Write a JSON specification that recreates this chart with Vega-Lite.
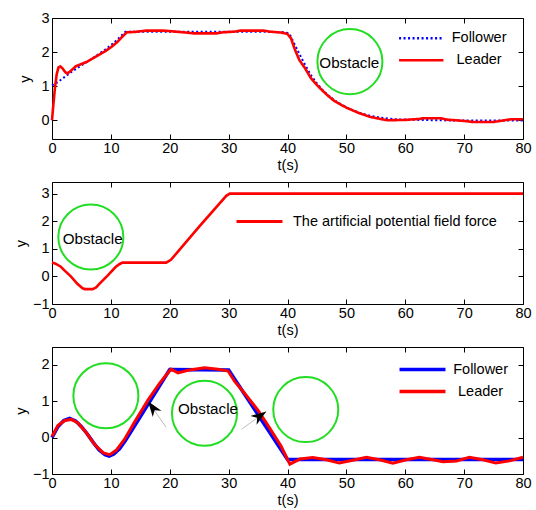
{
  "$schema": "https://vega.github.io/schema/vega-lite/v6.json",
  "padding": {"top": 9, "left": 13, "right": 5, "bottom": 5},
  "spacing": 8,
  "config": {
    "font": "Liberation Sans",
    "view": {"stroke": "black", "strokeWidth": 1},
    "axis": {"grid": false, "domain": false, "tickColor": "black", "tickSize": -5, "tickWidth": 1,
      "labelFontSize": 14.5, "labelColor": "black", "labelFont": "Liberation Sans", "labelFlush": false, "labelPadding": 7,
      "titleFontSize": 14.5, "titleFontWeight": "normal", "titleColor": "black", "titleFont": "Liberation Sans"},
    "axisX": {"titlePadding": 4},
    "axisY": {"titlePadding": 6, "labelPadding": 8}
  },
  "resolve": {"scale": {"color": "independent", "strokeDash": "independent"}, "legend": {"color": "independent", "strokeDash": "independent"}},
  "datasets": {
    "p1": [
      {"t": 0, "y": 1.02, "series": "Follower"}, {"t": 1, "y": 1.12, "series": "Follower"}, {"t": 2, "y": 1.25, "series": "Follower"},
      {"t": 3, "y": 1.38, "series": "Follower"}, {"t": 4, "y": 1.5, "series": "Follower"}, {"t": 5, "y": 1.61, "series": "Follower"},
      {"t": 6, "y": 1.72, "series": "Follower"}, {"t": 7, "y": 1.83, "series": "Follower"}, {"t": 8, "y": 1.95, "series": "Follower"},
      {"t": 9, "y": 2.07, "series": "Follower"}, {"t": 10, "y": 2.2, "series": "Follower"}, {"t": 11, "y": 2.35, "series": "Follower"},
      {"t": 12, "y": 2.52, "series": "Follower"}, {"t": 12.5, "y": 2.6, "series": "Follower"}, {"t": 20, "y": 2.6, "series": "Follower"},
      {"t": 30, "y": 2.6, "series": "Follower"}, {"t": 39, "y": 2.59, "series": "Follower"}, {"t": 40, "y": 2.56, "series": "Follower"},
      {"t": 40.5, "y": 2.48, "series": "Follower"}, {"t": 41, "y": 2.3, "series": "Follower"}, {"t": 42, "y": 1.95, "series": "Follower"},
      {"t": 43, "y": 1.62, "series": "Follower"}, {"t": 44, "y": 1.32, "series": "Follower"}, {"t": 45, "y": 1.08, "series": "Follower"},
      {"t": 46, "y": 0.88, "series": "Follower"}, {"t": 47, "y": 0.72, "series": "Follower"}, {"t": 48, "y": 0.58, "series": "Follower"},
      {"t": 50, "y": 0.38, "series": "Follower"}, {"t": 52, "y": 0.23, "series": "Follower"}, {"t": 54, "y": 0.13, "series": "Follower"},
      {"t": 56, "y": 0.07, "series": "Follower"}, {"t": 58, "y": 0.03, "series": "Follower"}, {"t": 60, "y": 0.02, "series": "Follower"},
      {"t": 65, "y": 0.0, "series": "Follower"}, {"t": 70, "y": -0.01, "series": "Follower"}, {"t": 80, "y": -0.01, "series": "Follower"},
      {"t": 0, "y": 0, "series": "Leader"}, {"t": 0.2, "y": 0.4, "series": "Leader"}, {"t": 0.5, "y": 0.95, "series": "Leader"},
      {"t": 0.8, "y": 1.35, "series": "Leader"}, {"t": 1.1, "y": 1.55, "series": "Leader"}, {"t": 1.4, "y": 1.58, "series": "Leader"},
      {"t": 1.8, "y": 1.52, "series": "Leader"}, {"t": 2.2, "y": 1.42, "series": "Leader"}, {"t": 2.6, "y": 1.37, "series": "Leader"},
      {"t": 3.2, "y": 1.45, "series": "Leader"}, {"t": 4, "y": 1.58, "series": "Leader"}, {"t": 5, "y": 1.65, "series": "Leader"},
      {"t": 6, "y": 1.72, "series": "Leader"}, {"t": 7, "y": 1.82, "series": "Leader"}, {"t": 8, "y": 1.92, "series": "Leader"},
      {"t": 9, "y": 2.02, "series": "Leader"}, {"t": 10, "y": 2.14, "series": "Leader"}, {"t": 11, "y": 2.28, "series": "Leader"},
      {"t": 12, "y": 2.46, "series": "Leader"}, {"t": 12.7, "y": 2.58, "series": "Leader"}, {"t": 14, "y": 2.59, "series": "Leader"},
      {"t": 16, "y": 2.63, "series": "Leader"}, {"t": 19, "y": 2.63, "series": "Leader"}, {"t": 21, "y": 2.6, "series": "Leader"},
      {"t": 23, "y": 2.57, "series": "Leader"}, {"t": 24, "y": 2.55, "series": "Leader"}, {"t": 28, "y": 2.55, "series": "Leader"},
      {"t": 29, "y": 2.58, "series": "Leader"}, {"t": 31, "y": 2.6, "series": "Leader"}, {"t": 32, "y": 2.63, "series": "Leader"},
      {"t": 36, "y": 2.63, "series": "Leader"}, {"t": 37, "y": 2.6, "series": "Leader"}, {"t": 39, "y": 2.57, "series": "Leader"},
      {"t": 40, "y": 2.53, "series": "Leader"}, {"t": 40.6, "y": 2.4, "series": "Leader"}, {"t": 41.2, "y": 2.1, "series": "Leader"},
      {"t": 42, "y": 1.77, "series": "Leader"}, {"t": 43, "y": 1.52, "series": "Leader"}, {"t": 44, "y": 1.23, "series": "Leader"},
      {"t": 45, "y": 1.03, "series": "Leader"}, {"t": 46, "y": 0.86, "series": "Leader"}, {"t": 47, "y": 0.7, "series": "Leader"},
      {"t": 48, "y": 0.56, "series": "Leader"}, {"t": 50, "y": 0.37, "series": "Leader"}, {"t": 52, "y": 0.22, "series": "Leader"},
      {"t": 54, "y": 0.1, "series": "Leader"}, {"t": 56, "y": 0.03, "series": "Leader"}, {"t": 57, "y": 0.0, "series": "Leader"},
      {"t": 60, "y": 0.01, "series": "Leader"}, {"t": 62.5, "y": 0.04, "series": "Leader"}, {"t": 63, "y": 0.06, "series": "Leader"},
      {"t": 66, "y": 0.06, "series": "Leader"}, {"t": 67, "y": 0.02, "series": "Leader"}, {"t": 70, "y": -0.02, "series": "Leader"},
      {"t": 71.5, "y": -0.05, "series": "Leader"}, {"t": 75, "y": -0.05, "series": "Leader"}, {"t": 76.5, "y": -0.01, "series": "Leader"},
      {"t": 78, "y": 0.03, "series": "Leader"}, {"t": 80, "y": 0.03, "series": "Leader"}
    ],
    "p2": [
      {"t": 0, "y": 0.5, "series": "The artificial potential field force"},
      {"t": 0.6, "y": 0.46, "series": "The artificial potential field force"},
      {"t": 1.5, "y": 0.35, "series": "The artificial potential field force"},
      {"t": 2.2, "y": 0.2, "series": "The artificial potential field force"},
      {"t": 3.2, "y": 0.0, "series": "The artificial potential field force"},
      {"t": 4.3, "y": -0.27, "series": "The artificial potential field force"},
      {"t": 5.2, "y": -0.43, "series": "The artificial potential field force"},
      {"t": 5.6, "y": -0.46, "series": "The artificial potential field force"},
      {"t": 6.9, "y": -0.46, "series": "The artificial potential field force"},
      {"t": 7.5, "y": -0.4, "series": "The artificial potential field force"},
      {"t": 8.0, "y": -0.28, "series": "The artificial potential field force"},
      {"t": 9.4, "y": 0.02, "series": "The artificial potential field force"},
      {"t": 10.8, "y": 0.34, "series": "The artificial potential field force"},
      {"t": 11.5, "y": 0.45, "series": "The artificial potential field force"},
      {"t": 12, "y": 0.5, "series": "The artificial potential field force"},
      {"t": 19.4, "y": 0.5, "series": "The artificial potential field force"},
      {"t": 20.2, "y": 0.6, "series": "The artificial potential field force"},
      {"t": 25, "y": 1.8, "series": "The artificial potential field force"},
      {"t": 29.6, "y": 2.92, "series": "The artificial potential field force"},
      {"t": 30.2, "y": 3.0, "series": "The artificial potential field force"},
      {"t": 80, "y": 3.0, "series": "The artificial potential field force"}
    ],
    "p3": [
      {"t": 0, "y": 0.0, "series": "Follower"}, {"t": 1, "y": 0.3, "series": "Follower"}, {"t": 2, "y": 0.47, "series": "Follower"},
      {"t": 3, "y": 0.53, "series": "Follower"}, {"t": 4, "y": 0.46, "series": "Follower"}, {"t": 5, "y": 0.3, "series": "Follower"},
      {"t": 6, "y": 0.1, "series": "Follower"}, {"t": 7, "y": -0.13, "series": "Follower"}, {"t": 8, "y": -0.34, "series": "Follower"},
      {"t": 9, "y": -0.47, "series": "Follower"}, {"t": 9.7, "y": -0.51, "series": "Follower"}, {"t": 10.5, "y": -0.45, "series": "Follower"},
      {"t": 11.5, "y": -0.3, "series": "Follower"}, {"t": 12.5, "y": -0.07, "series": "Follower"}, {"t": 20, "y": 1.87, "series": "Follower"},
      {"t": 30, "y": 1.86, "series": "Follower"}, {"t": 40, "y": -0.6, "series": "Follower"}, {"t": 80, "y": -0.6, "series": "Follower"},
      {"t": 0, "y": 0.03, "series": "Leader"}, {"t": 1, "y": 0.33, "series": "Leader"}, {"t": 2.2, "y": 0.47, "series": "Leader"},
      {"t": 3.3, "y": 0.5, "series": "Leader"}, {"t": 4.4, "y": 0.4, "series": "Leader"}, {"t": 5.8, "y": 0.14, "series": "Leader"},
      {"t": 7.25, "y": -0.19, "series": "Leader"}, {"t": 8.7, "y": -0.42, "series": "Leader"}, {"t": 9.8, "y": -0.47, "series": "Leader"},
      {"t": 10.9, "y": -0.35, "series": "Leader"}, {"t": 12.3, "y": -0.05, "series": "Leader"}, {"t": 14, "y": 0.42, "series": "Leader"},
      {"t": 16.3, "y": 1.03, "series": "Leader"}, {"t": 18.3, "y": 1.5, "series": "Leader"}, {"t": 20.2, "y": 1.88, "series": "Leader"},
      {"t": 21.4, "y": 1.78, "series": "Leader"}, {"t": 23.1, "y": 1.85, "series": "Leader"}, {"t": 25.9, "y": 1.92, "series": "Leader"},
      {"t": 28.2, "y": 1.88, "series": "Leader"}, {"t": 29.9, "y": 1.83, "series": "Leader"}, {"t": 31, "y": 1.55, "series": "Leader"},
      {"t": 32.7, "y": 1.22, "series": "Leader"}, {"t": 35, "y": 0.75, "series": "Leader"}, {"t": 36.7, "y": 0.33, "series": "Leader"},
      {"t": 38.9, "y": -0.23, "series": "Leader"}, {"t": 40.4, "y": -0.73, "series": "Leader"}, {"t": 41, "y": -0.68, "series": "Leader"},
      {"t": 42.1, "y": -0.59, "series": "Leader"}, {"t": 44.3, "y": -0.55, "series": "Leader"}, {"t": 46.6, "y": -0.61, "series": "Leader"},
      {"t": 48.8, "y": -0.7, "series": "Leader"}, {"t": 51.1, "y": -0.62, "series": "Leader"}, {"t": 53.4, "y": -0.54, "series": "Leader"},
      {"t": 55.6, "y": -0.61, "series": "Leader"}, {"t": 57.9, "y": -0.7, "series": "Leader"}, {"t": 60.2, "y": -0.61, "series": "Leader"},
      {"t": 62.4, "y": -0.54, "series": "Leader"}, {"t": 64.7, "y": -0.61, "series": "Leader"}, {"t": 66.4, "y": -0.66, "series": "Leader"},
      {"t": 68.7, "y": -0.64, "series": "Leader"}, {"t": 70.9, "y": -0.54, "series": "Leader"}, {"t": 73.2, "y": -0.61, "series": "Leader"},
      {"t": 75.4, "y": -0.7, "series": "Leader"}, {"t": 77.7, "y": -0.64, "series": "Leader"}, {"t": 80, "y": -0.54, "series": "Leader"}
    ],
    "obs1": [{"t": 50.6, "y": 1.72}],
    "lab1": [{"t": 50.5, "y": 1.68, "text": "Obstacle"}],
    "obs2": [{"t": 6.6, "y": 1.43}],
    "lab2": [{"t": 6.9, "y": 1.35, "text": "Obstacle"}],
    "obs3": [{"t": 9.15, "y": 1.15}, {"t": 25.9, "y": 0.67}, {"t": 43.1, "y": 0.77}],
    "lab3": [{"t": 26.5, "y": 0.78, "text": "Obstacle"}],
    "arrows": [{"id": "a", "t": 19.4, "y": 0.28, "t2": 16.3, "y2": 1.0}, {"id": "b", "t": 32.2, "y": 0.23, "t2": 36.4, "y2": 0.72}]
  },
  "vconcat": [
    {
      "width": 471, "height": 121,
      "layer": [
        {
          "data": {"name": "obs1"},
          "mark": {"type": "point", "shape": "circle", "size": 4230, "filled": false, "stroke": "#22dd22", "strokeWidth": 2, "opacity": 1},
          "encoding": {
            "x": {"field": "t", "type": "quantitative", "scale": {"domain": [0, 80], "nice": false}, "axis": {"orient": "top", "values": [0,10,20,30,40,50,60,70,80], "labels": false, "title": null}},
            "y": {"field": "y", "type": "quantitative", "scale": {"domain": [-0.55, 3], "nice": false, "zero": false}, "axis": {"orient": "right", "values": [0,1,2,3], "labels": false, "title": null}}
          }
        },
        {
          "data": {"name": "lab1"},
          "mark": {"type": "text", "fontSize": 15.2, "color": "black", "align": "center", "baseline": "middle"},
          "encoding": {"x": {"field": "t", "type": "quantitative", "axis": null}, "y": {"field": "y", "type": "quantitative", "axis": null}, "text": {"field": "text"}}
        },
        {
          "data": {"name": "p1"},
          "transform": [{"filter": "datum.series === 'Follower'"}],
          "mark": {"type": "line", "strokeWidth": 2},
          "encoding": {
            "x": {"field": "t", "type": "quantitative", "title": "t(s)", "axis": {"orient": "bottom", "values": [0,10,20,30,40,50,60,70,80]}},
            "y": {"field": "y", "type": "quantitative", "title": "y", "axis": {"orient": "left", "values": [0,1,2,3], "titlePadding": 8.5}},
            "color": {"field": "series", "type": "nominal", "scale": {"domain": ["Follower", "Leader"], "range": ["#0000ff", "#ff0000"]},
              "legend": {"title": null, "orient": "none", "legendX": 362, "legendY": 13, "symbolType": "M-4,0H4", "symbolSize": 123, "symbolStrokeWidth": 2.5, "labelAlign": "center", "labelOffset": 50.6, "labelFontSize": 14.5, "labelColor": "black", "rowPadding": 7, "padding": 0}},
            "strokeDash": {"field": "series", "type": "nominal", "scale": {"domain": ["Follower", "Leader"], "range": [[2, 2.5], [1, 0]]},
              "legend": {"title": null, "orient": "none", "legendX": 362, "legendY": 13, "symbolType": "M-4,0H4", "symbolSize": 123, "symbolStrokeWidth": 2.5, "labelAlign": "center", "labelOffset": 50.6, "labelFontSize": 14.5, "labelColor": "black", "rowPadding": 7, "padding": 0}}
          }
        },
        {
          "data": {"name": "p1"},
          "transform": [{"filter": "datum.series === 'Leader'"}],
          "mark": {"type": "line", "strokeWidth": 2.6},
          "encoding": {
            "x": {"field": "t", "type": "quantitative", "axis": null},
            "y": {"field": "y", "type": "quantitative", "axis": null},
            "color": {"field": "series", "type": "nominal"},
            "strokeDash": {"field": "series", "type": "nominal"}
          }
        }
      ]
    },
    {
      "width": 471, "height": 122,
      "layer": [
        {
          "data": {"name": "obs2"},
          "mark": {"type": "point", "shape": "circle", "size": 4230, "filled": false, "stroke": "#22dd22", "strokeWidth": 2, "opacity": 1},
          "encoding": {
            "x": {"field": "t", "type": "quantitative", "scale": {"domain": [0, 80], "nice": false}, "axis": {"orient": "top", "values": [0,10,20,30,40,50,60,70,80], "labels": false, "title": null}},
            "y": {"field": "y", "type": "quantitative", "scale": {"domain": [-1, 3.42], "nice": false, "zero": false}, "axis": {"orient": "right", "values": [-1,0,1,2,3], "labels": false, "title": null}}
          }
        },
        {
          "data": {"name": "lab2"},
          "mark": {"type": "text", "fontSize": 15.2, "color": "black", "align": "center", "baseline": "middle"},
          "encoding": {"x": {"field": "t", "type": "quantitative", "axis": null}, "y": {"field": "y", "type": "quantitative", "axis": null}, "text": {"field": "text"}}
        },
        {
          "data": {"name": "p2"},
          "mark": {"type": "line", "strokeWidth": 2.6},
          "encoding": {
            "x": {"field": "t", "type": "quantitative", "title": "t(s)", "axis": {"orient": "bottom", "values": [0,10,20,30,40,50,60,70,80]}},
            "y": {"field": "y", "type": "quantitative", "title": "y", "axis": {"orient": "left", "values": [-1,0,1,2,3], "titlePadding": 3.5}},
            "color": {"field": "series", "type": "nominal", "scale": {"range": ["#ff0000"]},
              "legend": {"title": null, "orient": "none", "legendX": 200, "legendY": 32, "symbolType": "M-4,0H4", "symbolSize": 132, "symbolStrokeWidth": 3, "labelAlign": "left", "labelOffset": 26, "labelFontSize": 14.5, "labelColor": "black", "labelLimit": 0, "padding": 0}}
          }
        }
      ]
    },
    {
      "width": 471, "height": 127,
      "layer": [
        {
          "data": {"name": "obs3"},
          "mark": {"type": "point", "shape": "circle", "size": 4230, "filled": false, "stroke": "#22dd22", "strokeWidth": 2, "opacity": 1},
          "encoding": {
            "x": {"field": "t", "type": "quantitative", "scale": {"domain": [0, 80], "nice": false}, "axis": {"orient": "top", "values": [0,10,20,30,40,50,60,70,80], "labels": false, "title": null}},
            "y": {"field": "y", "type": "quantitative", "scale": {"domain": [-1, 2.49], "nice": false, "zero": false}, "axis": {"orient": "right", "values": [-1,0,1,2], "labels": false, "title": null}}
          }
        },
        {
          "data": {"name": "p3"},
          "transform": [{"filter": "datum.series === 'Follower'"}],
          "mark": {"type": "line", "strokeWidth": 3.5},
          "encoding": {
            "x": {"field": "t", "type": "quantitative", "title": "t(s)", "axis": {"orient": "bottom", "values": [0,10,20,30,40,50,60,70,80]}},
            "y": {"field": "y", "type": "quantitative", "title": "y", "axis": {"orient": "left", "values": [-1,0,1,2], "titlePadding": 3.5}},
            "color": {"field": "series", "type": "nominal", "scale": {"domain": ["Follower", "Leader"], "range": ["#0000ff", "#ff0000"]},
              "legend": {"title": null, "orient": "none", "legendX": 363, "legendY": 15, "symbolType": "M-4,0H4", "symbolSize": 132, "symbolStrokeWidth": 3.5, "labelAlign": "center", "labelOffset": 50.6, "labelFontSize": 14.5, "labelColor": "black", "rowPadding": 6, "padding": 0}}
          }
        },
        {
          "data": {"name": "p3"},
          "transform": [{"filter": "datum.series === 'Leader'"}],
          "mark": {"type": "line", "strokeWidth": 3},
          "encoding": {
            "x": {"field": "t", "type": "quantitative", "axis": null},
            "y": {"field": "y", "type": "quantitative", "axis": null},
            "color": {"field": "series", "type": "nominal"}
          }
        },
        {
          "data": {"name": "arrows"},
          "mark": {"type": "rule", "color": "#aaaaaa", "strokeWidth": 0.8},
          "encoding": {"x": {"field": "t", "type": "quantitative", "axis": null}, "y": {"field": "y", "type": "quantitative", "axis": null}, "x2": {"field": "t2"}, "y2": {"field": "y2"}}
        },
        {
          "data": {"name": "arrows"},
          "transform": [{"filter": "datum.id === 'a'"}],
          "mark": {"type": "point", "shape": "M0,0L-0.55,1.6L0,1.15L0.55,1.6Z", "size": 380, "filled": true, "color": "black", "opacity": 1, "angle": 324},
          "encoding": {"x": {"field": "t2", "type": "quantitative", "axis": null}, "y": {"field": "y2", "type": "quantitative", "axis": null}}
        },
        {
          "data": {"name": "arrows"},
          "transform": [{"filter": "datum.id === 'b'"}],
          "mark": {"type": "point", "shape": "M0,0L-0.55,1.6L0,1.15L0.55,1.6Z", "size": 380, "filled": true, "color": "black", "opacity": 1, "angle": 55},
          "encoding": {"x": {"field": "t2", "type": "quantitative", "axis": null}, "y": {"field": "y2", "type": "quantitative", "axis": null}}
        },
        {
          "data": {"name": "lab3"},
          "mark": {"type": "text", "fontSize": 15.2, "color": "black", "align": "center", "baseline": "middle"},
          "encoding": {"x": {"field": "t", "type": "quantitative", "axis": null}, "y": {"field": "y", "type": "quantitative", "axis": null}, "text": {"field": "text"}}
        }
      ]
    }
  ]
}
